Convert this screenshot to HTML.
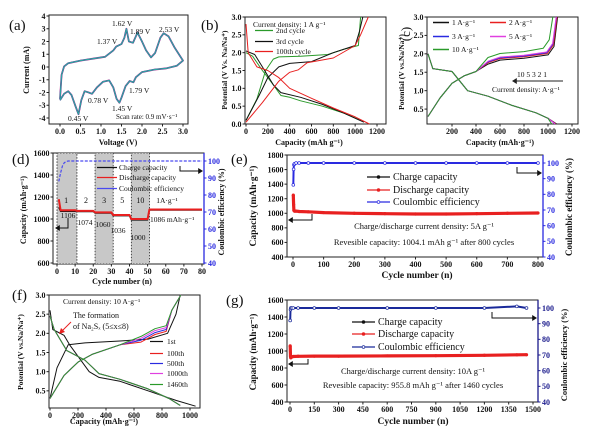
<!DOCTYPE html>
<html><head><meta charset="utf-8"><style>
html,body{margin:0;padding:0;background:#fff;}
svg{display:block;font-family:"Liberation Serif",serif;}
</style></head><body>
<svg id="fig" width="600" height="432" viewBox="0 0 600 432" xmlns="http://www.w3.org/2000/svg">
<rect width="600" height="432" fill="#fff"/>
</svg>
<script>
// ---------- DATA ----------
const cvUpper=[[0,-2.5],[0.04,-0.6],[0.1,0.05],[0.2,0.3],[0.5,0.5],[0.8,0.65],[1.1,0.8],[1.3,1.3],[1.37,1.6],[1.5,1.8],[1.57,2.3],[1.62,3.0],[1.68,2.0],[1.78,1.9],[1.89,2.7],[2.0,2.0],[2.1,1.3],[2.22,0.75],[2.32,1.1],[2.45,2.3],[2.53,2.65],[2.65,2.4],[2.8,1.5],[2.92,0.9],[3.0,0.5]];
const cvLower=[[3.0,0.5],[2.85,0.1],[2.6,-0.1],[2.3,-0.2],[2.0,-0.4],[1.85,-0.8],[1.79,-1.2],[1.7,-1.1],[1.6,-1.5],[1.5,-2.4],[1.45,-2.8],[1.38,-2.5],[1.3,-1.6],[1.2,-1.05],[1.05,-1.15],[0.9,-1.6],[0.78,-2.1],[0.7,-2.0],[0.6,-1.9],[0.52,-2.6],[0.45,-3.7],[0.38,-3.1],[0.28,-2.2],[0.2,-1.9],[0.1,-2.1],[0,-2.6]];
const b2Dis=[[0,2.0],[60,1.9],[150,1.5],[250,1.1],[320,0.8],[400,0.75],[500,0.65],[700,0.5],[900,0.3],[1050,0.1]];
const b2Chg=[[0,0.1],[100,0.7],[180,1.5],[250,1.82],[300,1.88],[500,1.9],[750,1.95],[900,2.1],[1030,2.2],[1050,3.0]];
const b3Dis=[[0,2.05],[80,1.95],[150,1.6],[250,1.1],[320,0.88],[500,0.75],[700,0.55],[900,0.3],[1080,0.05]];
const b3Chg=[[0,0.1],[120,0.8],[200,1.3],[300,1.6],[400,1.7],[600,1.75],[800,2.0],[1000,2.2],[1040,2.6],[1070,3.0]];
const b100Dis=[[0,2.8],[20,2.0],[100,1.6],[200,1.5],[300,1.3],[400,1.0],[600,0.72],[800,0.45],[1000,0.2],[1130,0.0]];
const b100Chg=[[0,0.05],[150,0.6],[300,1.2],[400,1.45],[480,1.52],[560,1.72],[800,1.85],[1000,2.2],[1050,2.5],[1120,3.0]];
const cRates=['1 A·g⁻¹','2 A·g⁻¹','3 A·g⁻¹','5 A·g⁻¹','10 A·g⁻¹'];
const cColors=['#111','#e82020','#2a2ae0','#e040e0','#2a9a2a'];
const cDisBase=[[0,2.0],[40,1.6],[200,1.52],[330,1.0],[500,0.85],[700,0.6],[900,0.4],[1000,0.25],[1070,0.1]];
const cChgBase=[[0,0.3],[100,0.8],[200,1.2],[300,1.4],[400,1.52],[500,1.72],[600,1.83],[800,1.88],[1000,1.97],[1050,2.2],[1080,3.0]];
const cPlateauShift=[0,0.04,0.06,0.08,0.18];
const cEndShift=[0,-5,-10,-12,-40];
const dSegStart=[2,11,21,31,41,51];
const dSegEnd=[10,20,30,40,50,80];
const dSegDis=[1080,1074,1060,1036,1000,1086];
const dSegChg=[1070,1068,1054,1030,992,1082];
const dFirstDis=1180, dFirstChg=1106;
const dCEStart=[88,93,97,99,99.6];
const dShadeStart=[0,21,41], dShadeEnd=[11,31,51];
const dRateLabels=['1','2','3','5','10'];
const dRateCyc=[5,16,26,36,46];
const dCapLabels=['1106','1074','1060','1036','1000'];
const eCyc=[1,2,3,5,10,20,50,100,200,300,400,500,600,700,800];
const eDis=[1250,1120,1040,1030,1030,1025,1020,1010,1000,995,990,990,995,1000,1004];
const eChg=[1090,1070,1030,1025,1028,1022,1018,1008,998,993,988,988,993,998,1002];
const eCE=[86,96,99,99.5,100,100,100,100,100,100,100,100,100,100,100];
const fLabels=['1st','100th','500th','1000th','1460th'];
const fColors=['#111','#e82020','#2a2ae0','#e040e0','#2a9a2a'];
const f1Dis=[[0,2.6],[20,2.1],[100,1.95],[140,1.7],[200,1.4],[280,1.0],[350,0.85],[500,0.75],[700,0.5],[900,0.25],[1040,0.1]];
const f1Chg=[[0,0.3],[50,1.1],[130,1.7],[250,1.75],[500,1.8],[700,1.85],[840,2.0],[900,2.5],[930,3.0]];
const fDis=[[0,2.45],[30,2.1],[120,1.55],[250,1.3],[350,0.95],[500,0.8],[700,0.55],[850,0.3],[930,0.12]];
const fChg=[[0,0.3],[100,0.9],[200,1.25],[300,1.45],[500,1.7],[650,1.92],[750,2.12],[830,2.2],[870,2.6],[935,3.0]];
const fPlateauShift=[0,-0.15,-0.1,-0.05,0.0];
const gCyc=[1,3,5,10,20,50,150,300,600,900,1200,1400,1460];
const gDis=[1060,940,920,930,935,938,940,940,942,945,950,955,956];
const gChg=[930,925,918,928,933,936,938,938,940,943,948,953,954];
const gCE=[92,99,100,100,100,100,100,100,100,100,100,101,100];

// ---------- HELPERS ----------
const NS='http://www.w3.org/2000/svg';
const svg=document.getElementById('fig');
function mk(tag,attrs,name,parent){
  const el=document.createElementNS(NS,tag);
  for(const k in attrs) el.setAttribute(k,attrs[k]);
  
  
  (parent||svg).appendChild(el);
  return el;
}
function txt(x,y,s,name,o){
  o=o||{};
  const a={x:x,y:y,'font-size':o.size||8,'text-anchor':o.anchor||'start',fill:o.fill||'#111'};
  if(o.bold) a['font-weight']='bold';
  if(o.rot) a.transform='rotate('+o.rot+' '+x+' '+y+')';
  const t=mk('text',a,name);
  t.textContent=s;
  return t;
}
function scale(d,r){return v=>r[0]+(v-d[0])*(r[1]-r[0])/(d[1]-d[0]);}
function poly(pts,sx,sy,color,w,name,extra){
  const d=pts.map((p,i)=>(i?'L':'M')+sx(p[0]).toFixed(1)+' '+sy(p[1]).toFixed(1)).join('');
  const a={d:d,fill:'none',stroke:color,'stroke-width':w||1,'stroke-linejoin':'round'};
  if(extra) for(const k in extra) a[k]=extra[k];
  return mk('path',a,name);
}
function axes(c){
  const sx=scale(c.xd,c.xr), sy=scale(c.yd,c.yr);
  mk('rect',{x:c.l,y:c.t,width:c.r-c.l,height:c.b-c.t,fill:'none',stroke:'#222','stroke-width':1},c.name+'-frame');
  c.xt.forEach((v,i)=>{
    const x=sx(v);
    mk('line',{x1:x,x2:x,y1:c.b,y2:c.b+2.5,stroke:'#222'},c.name+'-x-tick');
    txt(x,c.b+10,c.xl?c.xl[i]:String(v),c.name+'-x-tick-label',{anchor:'middle',bold:1,size:8});
  });
  c.yt.forEach((v,i)=>{
    const y=sy(v);
    mk('line',{x1:c.l-2.5,x2:c.l,y1:y,y2:y,stroke:'#222'},c.name+'-y-tick');
    txt(c.l-3.5,y+2.8,c.yl?c.yl[i]:String(v),c.name+'-y-tick-label',{anchor:'end',bold:1,size:8});
  });
  return {sx:sx,sy:sy};
}
function rightAxis(c,d,r,ticks,color){
  const sy=scale(d,r);
  mk('line',{x1:c.r,x2:c.r,y1:c.t,y2:c.b,stroke:color,'stroke-width':1.3},c.name+'-right-axis');
  ticks.forEach(v=>{
    const y=sy(v);
    mk('line',{x1:c.r,x2:c.r+2.5,y1:y,y2:y,stroke:color},c.name+'-right-tick');
    txt(c.r+4,y+2.8,String(v),c.name+'-right-tick-label',{bold:1,size:8,fill:color});
  });
  return sy;
}
function fmt1(a){return a.map(v=>v.toFixed(1));}
function arrowHead(x,y,dir,color,name){
  const s=3;
  const p=dir<0?[[x,y],[x+s*1.6,y-s],[x+s*1.6,y+s]]:[[x,y],[x-s*1.6,y-s],[x-s*1.6,y+s]];
  mk('polygon',{points:p.map(q=>q.join(',')).join(' '),fill:color},name);
}

// ---------- (a) ----------
(function(){
  const c={name:'cv',l:49,r:188,t:15,b:124,xd:[0,3],xr:[60,183],yd:[-4,4],yr:[118,16],
    xt:[0,0.5,1,1.5,2,2.5,3],yt:[-4,-3,-2,-1,0,1,2,3,4]};
  c.xl=fmt1(c.xt);
  const {sx,sy}=axes(c);
  poly(cvUpper.concat(cvLower),sx,sy,'#d0308a',1.8,'cv-curve-cycle1');
  poly(cvUpper.concat(cvLower),sx,sy,'#2a3aa0',1.4,'cv-curve-cycle2');
  poly(cvUpper.concat(cvLower),sx,sy,'#2fa8a0',1.1,'cv-curve-cycle3');
  txt(9,30,'(a)','panel-label-a',{size:15});
  txt(29,70,'Current (mA)','cv-y-axis-title',{anchor:'middle',bold:1,size:8,rot:-90});
  txt(118,145,'Voltage (V)','cv-x-axis-title',{anchor:'middle',bold:1,size:8});
  const L=[['1.62 V',112,26],['1.89 V',130,34],['2.53 V',159,32],['1.37 V',97,44],['1.79 V',129,93],['0.78 V',88,103],['1.45 V',112,111],['0.45 V',68,121],['Scan rate: 0.9 mV·s⁻¹',116,119]];
  L.forEach(q=>txt(q[1],q[2],q[0],'cv-peak-label',{size:q[0].length>8?7:7.5}));
})();

// ---------- (b) ----------
(function(){
  const c={name:'gcd',l:245,r:386,t:17,b:124,xd:[0,1200],xr:[246,377],yd:[0,3],yr:[124,17],
    xt:[0,200,400,600,800,1000,1200],yt:[0,0.5,1,1.5,2,2.5,3]};
  c.yl=fmt1(c.yt);
  const {sx,sy}=axes(c);
  poly(b2Dis,sx,sy,'#2a9a2a',1,'gcd-2nd-discharge');poly(b2Chg,sx,sy,'#2a9a2a',1,'gcd-2nd-charge');
  poly(b3Dis,sx,sy,'#111',1,'gcd-3rd-discharge');poly(b3Chg,sx,sy,'#111',1,'gcd-3rd-charge');
  poly(b100Dis,sx,sy,'#e82020',1,'gcd-100th-discharge');poly(b100Chg,sx,sy,'#e82020',1,'gcd-100th-charge');
  txt(201,30,'(b)','panel-label-b',{size:15});
  txt(227,70,'Potential (V Vs. Na/Na⁺)','gcd-y-axis-title',{anchor:'middle',bold:1,size:7.5,rot:-90});
  txt(309,145,'Capacity (mAh g⁻¹)','gcd-x-axis-title',{anchor:'middle',bold:1,size:8});
  txt(253,27,'Current density: 1 A g⁻¹','gcd-annotation',{size:7.5});
  [['2nd cycle','#2a9a2a',33],['3rd cycle','#111',44],['100th cycle','#e82020',54]].forEach(q=>{
    mk('line',{x1:255,x2:273,y1:q[2]-2.5,y2:q[2]-2.5,stroke:q[1],'stroke-width':1.2},'gcd-legend-swatch');
    txt(276,q[2],q[0],'gcd-legend-entry',{size:7.5});
  });
})();

// ---------- (c) ----------
(function(){
  const c={name:'rate',l:427,r:578,t:17,b:124,xd:[0,1200],xr:[428,572],yd:[0,3],yr:[127.5,17],
    xt:[200,400,600,800,1000,1200],yt:[0.5,1,1.5,2,2.5,3]};
  c.yl=fmt1(c.yt);
  const {sx,sy}=axes(c);
  cRates.forEach((r,i)=>{
    const dis=cDisBase.map(p=>[p[0]===1070?p[0]+cEndShift[i]:p[0],p[1]]);
    const chg=cChgBase.map(p=>[p[0]>=1000?p[0]+cEndShift[i]:p[0],p[1]>=1.7&&p[1]<2.5?p[1]+cPlateauShift[i]:p[1]]);
    poly(dis,sx,sy,cColors[i],1,'rate-discharge-curve');
    poly(chg,sx,sy,cColors[i],1,'rate-charge-curve');
  });
  txt(404,72,'Potential (V vs.Na/Na⁺)','rate-y-axis-title',{anchor:'middle',bold:1,size:7.5,rot:-90});
  txt(410,34,'(c)','panel-label-c',{size:13,rot:-90,anchor:'middle'});
  txt(500,145,'Capacity (mAh·g⁻¹)','rate-x-axis-title',{anchor:'middle',bold:1,size:8});
  const pos=[[433,25],[490,25],[433,39],[490,39],[433,52]];
  cRates.forEach((r,i)=>{
    mk('line',{x1:pos[i][0],x2:pos[i][0]+16,y1:pos[i][1]-2.5,y2:pos[i][1]-2.5,stroke:cColors[i],'stroke-width':1.5},'rate-legend-swatch');
    txt(pos[i][0]+19,pos[i][1],r,'rate-legend-entry',{size:7.5});
  });
  mk('line',{x1:563,x2:516,y1:81,y2:81,stroke:'#222'},'rate-arrow');
  arrowHead(512,81,-1,'#222','rate-arrow-head');
  txt(517,77,'10  5  3  2  1','rate-arrow-label',{size:7.5});
  txt(492,92,'Current density: A·g⁻¹','rate-annotation',{size:7.5});
})();

// ---------- (d) ----------
(function(){
  const c={name:'ratecap',l:53,r:204,t:153,b:264,xd:[0,80],xr:[57,202],yd:[600,1600],yr:[263,153],
    xt:[0,10,20,30,40,50,60,70,80],yt:[600,800,1000,1200,1400,1600]};
  const {sx,sy}=axes(c);
  dShadeStart.forEach((s,i)=>{
    mk('rect',{x:sx(s),y:c.t,width:sx(dShadeEnd[i])-sx(s),height:c.b-c.t,fill:'#c8c8c8',stroke:'#222','stroke-dasharray':'1.5,1.5','stroke-width':0.8},'ratecap-rate-region');
  });
  const sy2=rightAxis(c,[40,100],[263,161],[40,50,60,70,80,90,100],'#2a2ae0');
  const dis=[[1,dFirstDis]],chg=[[1,dFirstChg]],ce=[];
  dSegStart.forEach((s,i)=>{for(let k=s;k<=dSegEnd[i];k++){dis.push([k,dSegDis[i]]);chg.push([k,dSegChg[i]]);}});
  for(let k=1;k<=80;k++) ce.push([k,k<=dCEStart.length?dCEStart[k-1]:100]);
  poly(chg,sx,sy,'#111',1.4,'ratecap-charge-line');
  poly(dis,sx,sy,'#e82020',2,'ratecap-discharge-line');
  poly(ce,sx,sy2,'#4a4af0',1.2,'ratecap-ce-line',{'stroke-dasharray':'3,1.5'});
  txt(12,164,'(d)','panel-label-d',{size:15});
  txt(26,210,'Capacity (mAh·g⁻¹)','ratecap-y-axis-title',{anchor:'middle',bold:1,size:8,rot:-90});
  txt(224,212,'Coulombic efficiency (%)','ratecap-right-axis-title',{anchor:'middle',bold:1,size:8,rot:-90});
  txt(122,284,'Cycle number (n)','ratecap-x-axis-title',{anchor:'middle',bold:1,size:8});
  [['Charge capacity','#111',170],['Discharge capacity','#e82020',180],['Coulombic efficiency','#4a4af0',191]].forEach(q=>{
    mk('line',{x1:97,x2:117,y1:q[2]-2.5,y2:q[2]-2.5,stroke:q[1],'stroke-width':1.2},'ratecap-legend-swatch');
    txt(119,q[2],q[0],'ratecap-legend-entry',{size:7.5});
  });
  dRateLabels.forEach((r,i)=>txt(sx(dRateCyc[i]),203,r,'ratecap-rate-label',{anchor:'middle',size:8}));
  txt(167,203,'1A·g⁻¹','ratecap-rate-label',{anchor:'middle',size:7.5});
  const cy=[218,225,227,233,240], cx=[68,85,103,118,138];
  dCapLabels.forEach((s,i)=>txt(cx[i],cy[i],s,'ratecap-capacity-label',{anchor:'middle',size:7.5}));
  txt(150,222,'1086 mAh·g⁻¹','ratecap-capacity-label',{size:7.5});
  mk('polyline',{points:'68,218 68,228 58,228',fill:'none',stroke:'#111'},'ratecap-left-arrow');
  arrowHead(55,228,-1,'#111','ratecap-left-arrow-head');
  mk('polyline',{points:'180,166 180,171 199,171',fill:'none',stroke:'#111'},'ratecap-right-arrow');
  arrowHead(203,171,1,'#111','ratecap-right-arrow-head');
})();

// ---------- (e) / (g) ----------
function cycling(c,cyc,dis,chg,ce,rColor,ceColor,lp,ann){
  const {sx,sy}=axes(c);
  const sy2=rightAxis(c,[40,100],c.ry,[40,50,60,70,80,90,100],rColor);
  const D=cyc.map((v,i)=>[v,dis[i]]),C=cyc.map((v,i)=>[v,chg[i]]),E=cyc.map((v,i)=>[v,ce[i]]);
  poly(C,sx,sy,'#111',1.2,c.name+'-charge-line');
  poly(D,sx,sy,'#e82020',3.2,c.name+'-discharge-line');
  poly(E,sx,sy2,ceColor,2,c.name+'-ce-line');
  D.forEach(p=>mk('circle',{cx:sx(p[0]),cy:sy(p[1]),r:1.6,fill:'#e82020'},c.name+'-discharge-point'));
  E.forEach(p=>mk('circle',{cx:sx(p[0]),cy:sy2(p[1]),r:1.4,fill:'#fff',stroke:ceColor,'stroke-width':0.7},c.name+'-ce-point'));
  [['Charge capacity','#111'],['Discharge capacity','#e82020'],['Coulombic efficiency',ceColor]].forEach((q,i)=>{
    const y=lp.y[i];
    mk('line',{x1:lp.x,x2:lp.x+23,y1:y-3,y2:y-3,stroke:q[1],'stroke-width':1.2},c.name+'-legend-swatch');
    mk('circle',{cx:lp.x+11.5,cy:y-3,r:1.4,fill:i==2?'#fff':q[1],stroke:q[1],'stroke-width':0.7},c.name+'-legend-marker');
    txt(lp.x+26,y,q[0],c.name+'-legend-entry',{size:10});
  });
  txt(ann.cx,ann.y1,ann.t1,c.name+'-annotation',{anchor:'middle',size:8.5});
  txt(ann.cx,ann.y2,ann.t2,c.name+'-annotation',{anchor:'middle',size:8.5});
  const A=ann.la;
  mk('polyline',{points:A[0]+','+A[1]+' '+A[0]+','+A[2]+' '+(c.l+5)+','+A[2],fill:'none',stroke:'#111'},c.name+'-left-arrow');
  arrowHead(c.l+1,A[2],-1,'#111',c.name+'-left-arrow-head');
  const B=ann.ra;
  mk('polyline',{points:B[0]+','+B[1]+' '+B[0]+','+B[2]+' '+(c.r-5)+','+B[2],fill:'none',stroke:'#111'},c.name+'-right-arrow');
  arrowHead(c.r-1,B[2],1,'#111',c.name+'-right-arrow-head');
}
cycling({name:'cyc5',l:287,r:543,t:155,b:257,xd:[0,800],xr:[293,538],yd:[400,1800],yr:[257,155],ry:[257,163],
  xt:[0,100,200,300,400,500,600,700,800],yt:[400,600,800,1000,1200,1400,1600,1800]},
  eCyc,eDis,eChg,eCE,'#2a2ae0','#2a2ae0',{x:367,y:[180,193,205]},
  {cx:424,y1:229,y2:245,t1:'Charge/discharge current density: 5A g⁻¹',t2:'Revesible capacity: 1004.1 mAh g⁻¹ after 800 cycles',la:[312,214,220],ra:[517,167,173]});
txt(231,164,'(e)','panel-label-e',{size:15});
txt(256,206,'Capacity (mAh·g⁻¹)','cyc5-y-axis-title',{anchor:'middle',bold:1,size:9.5,rot:-90});
txt(572,207,'Coulombic efficiency (%)','cyc5-right-axis-title',{anchor:'middle',bold:1,size:9,rot:-90});
txt(417,278,'Cycle number (n)','cyc5-x-axis-title',{anchor:'middle',bold:1,size:9.5});

cycling({name:'cyc10',l:287,r:538,t:300,b:402,xd:[0,1500],xr:[290,533],yd:[400,1600],yr:[402,300],ry:[402,308],
  xt:[0,150,300,450,600,750,900,1050,1200,1350,1500],yt:[400,600,800,1000,1200,1400,1600]},
  gCyc,gDis,gChg,gCE,'#1a1a8c','#1a2a9a',{x:352,y:[325,337,350]},
  {cx:413,y1:374,y2:388,t1:'Charge/discharge current density: 10A g⁻¹',t2:'Revesible capacity: 955.8 mAh g⁻¹ after 1460 cycles',la:[308,359,364],ra:[492,312,318]});
txt(226,305,'(g)','panel-label-g',{size:15});
txt(256,352,'Capacity (mAh·g⁻¹)','cyc10-y-axis-title',{anchor:'middle',bold:1,size:9,rot:-90});
txt(567,355,'Coulombic efficiency (%)','cyc10-right-axis-title',{anchor:'middle',bold:1,size:8.5,rot:-90});
txt(413,424,'Cycle number (n)','cyc10-x-axis-title',{anchor:'middle',bold:1,size:9.5});

// ---------- (f) ----------
(function(){
  const c={name:'long',l:49,r:200,t:295,b:408,xd:[0,1000],xr:[50,190],yd:[0,3],yr:[410,295],
    xt:[0,200,400,600,800,1000],yt:[0.5,1,1.5,2,2.5,3]};
  c.yl=fmt1(c.yt);
  const {sx,sy}=axes(c);
  fLabels.forEach((l,i)=>{
    if(i===0){poly(f1Dis,sx,sy,fColors[0],1,'long-discharge-curve');poly(f1Chg,sx,sy,fColors[0],1,'long-charge-curve');return;}
    poly(fDis,sx,sy,fColors[i],1,'long-discharge-curve');
    poly(fChg.map(p=>[p[0],p[1]>=1.8&&p[1]<2.5?p[1]+fPlateauShift[i]:p[1]]),sx,sy,fColors[i],1,'long-charge-curve');
  });
  txt(12,300,'(f)','panel-label-f',{size:15});
  txt(23,352,'Potential (V vs.Na/Na⁺)','long-y-axis-title',{anchor:'middle',bold:1,size:7.5,rot:-90});
  txt(104,424,'Capacity (mAh·g⁻¹)','long-x-axis-title',{anchor:'middle',bold:1,size:8});
  txt(63,304,'Current density: 10 A·g⁻¹','long-annotation',{size:7.5});
  txt(73,318,'The formation','long-annotation',{size:8});
  txt(73,329,'of Na₂Sₓ (5≤x≤8)','long-annotation',{size:8});
  mk('line',{x1:71,y1:322,x2:62,y2:331,stroke:'#e82020','stroke-width':1},'long-formation-arrow');
  mk('polygon',{points:'59,334 61,328 65,332',fill:'#e82020'},'long-formation-arrow-head');
  const ys=[344,356,366,376,387];
  fLabels.forEach((l,i)=>{
    mk('line',{x1:150,x2:163,y1:ys[i]-2.5,y2:ys[i]-2.5,stroke:fColors[i],'stroke-width':1.2},'long-legend-swatch');
    txt(167,ys[i],l,'long-legend-entry',{size:7.5});
  });
})();
</script>
</body></html>
